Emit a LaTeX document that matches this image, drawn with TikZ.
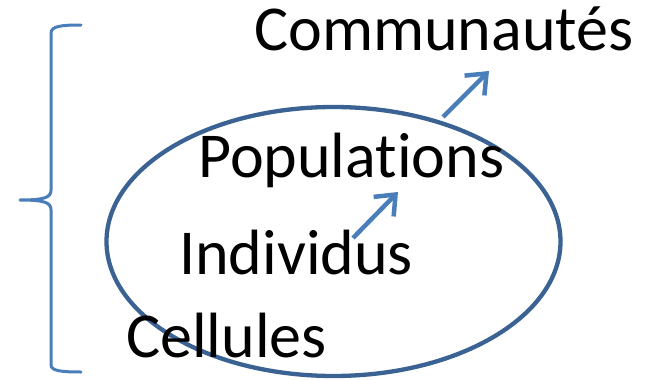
\documentclass[tikz,border=0pt]{standalone}
\usepackage{fontspec}
\setmainfont[Ligatures=NoCommon]{Carlito}
\usetikzlibrary{arrows.meta}
\definecolor{ellblue}{HTML}{3A6293}
\definecolor{arrblue}{HTML}{4A7EBB}
\tikzset{
  lbl/.style={anchor=base west, inner sep=0pt, font=\fontsize{64}{75}\selectfont},
  uparrow/.style={draw=arrblue, line width=4.5pt, -{Straight Barb[length=17pt,width=28pt]}},
  bracestyle/.style={draw=arrblue, line width=3pt, line cap=round}
}
\begin{document}
\begin{tikzpicture}[x=1pt,y=-1pt]
\useasboundingbox (0,0) rectangle (654,380);
\draw[ellblue, line width=4.3pt] (333.5,241.5) ellipse [x radius=227, y radius=134.5];
% brace
\draw[bracestyle] (81,25) .. controls (62,25) and (51,26) .. (51,33)
  -- (51,190) .. controls (51,197) and (46,200) .. (20,200)
  (20,200) .. controls (46,200) and (51,203) .. (51,210)
  -- (51,365) .. controls (51,371) and (62,372) .. (81,372);
\node[lbl] (comm) at (254,50) {Communautés};
\node[lbl] (pop) at (198,177) {Populations};
\node[lbl] (ind) at (179,274) {Individus};
\node[lbl] (cel) at (126,357) {Cellules};
\coordinate (a1s) at (443,117);
\coordinate (a1e) at (489,71);
\coordinate (a2s) at (353,238);
\coordinate (a2e) at (398,192);
\draw[uparrow] (a1s) -- (a1e);
\draw[uparrow] (a2s) -- (a2e);
\end{tikzpicture}
\end{document}
